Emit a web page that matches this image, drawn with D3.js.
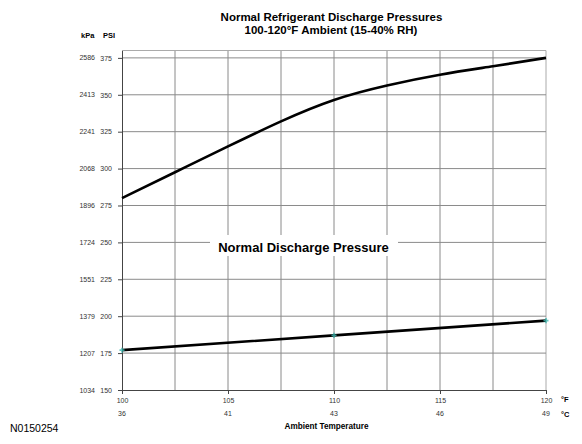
<!DOCTYPE html>
<html>
<head>
<meta charset="utf-8">
<script src="https://cdn.jsdelivr.net/npm/d3@7"></script>
<style>
  body { margin: 0; background: #fff; }
  svg { font-family: "Liberation Sans", Arial, sans-serif; }
</style>
</head>
<body>
<div id="chart"></div>
<script>
// data
var tempF = [100, 102.5, 105, 107.5, 110, 112.5, 115, 117.5, 120]
var highPsi = [280, 297.5, 315, 332, 346.5, 356.3, 363.6, 369.3, 375]
var lowTempF = [100, 110, 120]
var lowPsi = [177, 187, 197]
var psiTicks = [150, 175, 200, 225, 250, 275, 300, 325, 350, 375]
var kpaTicks = [1034, 1207, 1379, 1551, 1724, 1896, 2068, 2241, 2413, 2586]
var fTicks = [100, 105, 110, 115, 120]
var cTicks = [36, 41, 43, 46, 49]
var gridF = [102.5, 105, 107.5, 110, 112.5, 115, 117.5, 120]

function chart() {
  var width = 582,
    height = 444
  var plotLeft = 122, plotRight = 546, plotTop = 50.5, plotBottom = 390

  var svg = d3
    .select("#chart")
    .append("svg")
    .attr("width", width)
    .attr("height", height)

  var x = d3.scaleLinear().domain([100, 120]).range([plotLeft, plotRight])
  var y = d3.scaleLinear().domain([150, 380]).range([plotBottom, plotTop])

  // grid
  svg.append("g")
    .selectAll("line")
    .data(gridF)
    .enter()
    .append("line")
    .attr("x1", d => x(d)).attr("x2", d => x(d))
    .attr("y1", plotTop).attr("y2", plotBottom)
    .attr("stroke", d => d == 120 ? "#aaa" : "#8a8a8a")
    .attr("stroke-width", 1)
  svg.append("g")
    .selectAll("line")
    .data(psiTicks.slice(1).concat([380]))
    .enter()
    .append("line")
    .attr("x1", plotLeft).attr("x2", plotRight)
    .attr("y1", d => y(d)).attr("y2", d => y(d))
    .attr("stroke", d => d == 380 ? "#aaa" : "#8a8a8a")
    .attr("stroke-width", 1)

  // axes
  var yAxis = d3.axisLeft(y).tickValues(psiTicks).tickSize(4).tickSizeOuter(0).tickPadding(6)
  var gy = svg.append("g").attr("transform", `translate(${plotLeft},0)`).call(yAxis)
  var xAxis = d3.axisBottom(x).tickValues(fTicks).tickSize(4).tickSizeOuter(0).tickPadding(4)
  var gx = svg.append("g").attr("transform", `translate(0,${plotBottom})`).call(xAxis)
  ;[gx, gy].forEach(g => {
    g.select(".domain").attr("stroke", "#444")
    g.selectAll(".tick line").attr("stroke", "#444")
    g.selectAll("text").attr("font-size", 7).attr("fill", "#333")
      .attr("font-family", "Liberation Sans, Arial, sans-serif")
  })

  // kPa and Celsius labels
  svg.append("g")
    .selectAll("text")
    .data(kpaTicks)
    .enter()
    .append("text")
    .attr("x", 95)
    .attr("y", (d, i) => y(psiTicks[i]) + 2.5)
    .attr("text-anchor", "end")
    .attr("font-size", 7)
    .attr("fill", "#333")
    .text(d => d)
  svg.append("g")
    .selectAll("text")
    .data(cTicks)
    .enter()
    .append("text")
    .attr("x", (d, i) => x(fTicks[i]))
    .attr("y", 415.5)
    .attr("text-anchor", "middle")
    .attr("font-size", 7)
    .attr("fill", "#333")
    .text(d => d)

  // curves
  var line = d3.line().x(d => x(d[0])).y(d => y(d[1])).curve(d3.curveNatural)
  svg.append("path")
    .attr("d", line(d3.zip(tempF, highPsi)))
    .attr("fill", "none")
    .attr("stroke", "#000")
    .attr("stroke-width", 2.6)
  svg.append("path")
    .attr("d", d3.line().x(d => x(d[0])).y(d => y(d[1]))(d3.zip(lowTempF, lowPsi)))
    .attr("fill", "none")
    .attr("stroke", "#000")
    .attr("stroke-width", 2.6)
  svg.append("g")
    .selectAll("path")
    .data(d3.zip(lowTempF, lowPsi))
    .enter()
    .append("path")
    .attr("d", d3.symbol(d3.symbolCross, 14))
    .attr("transform", d => `translate(${x(d[0])},${y(d[1])})`)
    .attr("fill", "#3fb8b0")
    .attr("opacity", 0.8)

  // labels
  svg.append("rect")
    .attr("x", 210).attr("y", 235).attr("width", 188).attr("height", 21)
    .attr("fill", "#fff")
  svg.append("text")
    .attr("x", 303.5).attr("y", 252)
    .attr("text-anchor", "middle")
    .attr("font-size", 13)
    .attr("font-weight", "bold")
    .text("Normal Discharge Pressure")

  svg.append("text")
    .attr("x", 331.5).attr("y", 21)
    .attr("text-anchor", "middle")
    .attr("font-size", 11.5)
    .attr("font-weight", "bold")
    .text("Normal Refrigerant Discharge Pressures")
  svg.append("text")
    .attr("x", 331).attr("y", 34.3)
    .attr("text-anchor", "middle")
    .attr("font-size", 11.5)
    .attr("font-weight", "bold")
    .text("100-120°F Ambient (15-40% RH)")

  svg.append("text").attr("x", 81).attr("y", 37.5)
    .attr("font-size", 7.5).attr("font-weight", "bold").text("kPa")
  svg.append("text").attr("x", 103).attr("y", 37.5)
    .attr("font-size", 7.5).attr("font-weight", "bold").text("PSI")
  svg.append("text").attr("x", 561).attr("y", 402)
    .attr("font-size", 7.5).attr("font-weight", "bold").text("°F")
  svg.append("text").attr("x", 561).attr("y", 417)
    .attr("font-size", 7.5).attr("font-weight", "bold").text("°C")
  svg.append("text")
    .attr("x", 326.5).attr("y", 429)
    .attr("text-anchor", "middle")
    .attr("font-size", 8.2)
    .attr("font-weight", "bold")
    .text("Ambient Temperature")
  svg.append("text")
    .attr("x", 10).attr("y", 432)
    .attr("font-size", 10.5)
    .text("N0150254")
}
chart()
</script>
</body>
</html>
